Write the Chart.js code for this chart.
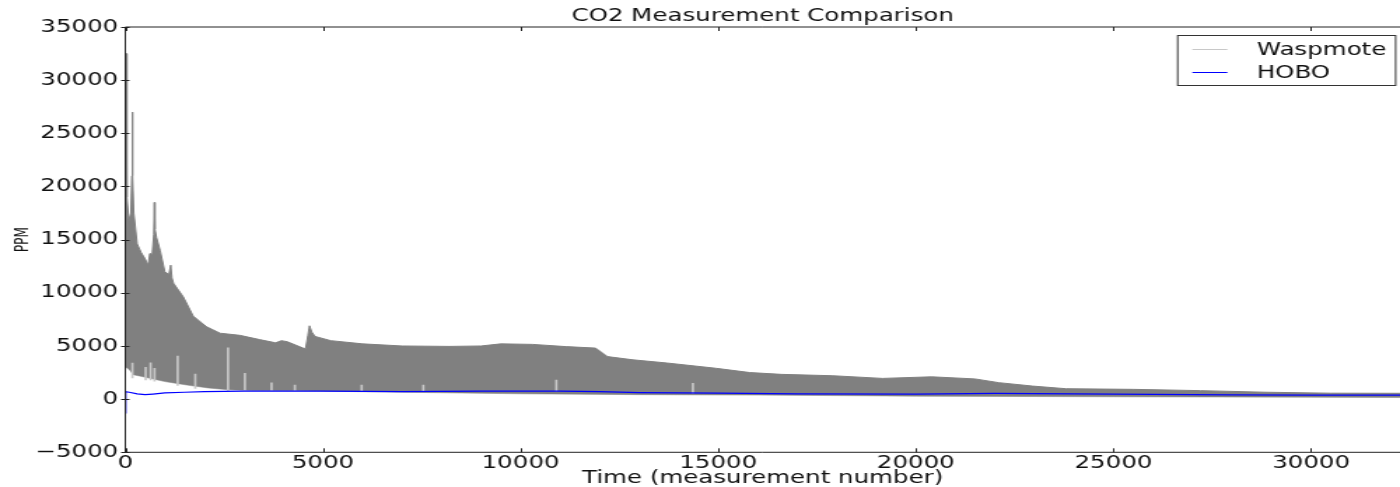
<!DOCTYPE html>
<html>
<head>
<meta charset="utf-8">
<title>CO2 Measurement Comparison</title>
<script src="https://cdn.jsdelivr.net/npm/chart.js@4/dist/chart.umd.min.js"></script>
<style>
body{margin:0;background:#fff;overflow:hidden}
#co2{display:block}
</style>
</head>
<body>
<!-- canvas is drawn 1000 wide and shown 1400 wide: the reference is a stretched figure -->
<canvas id="co2" width="1000" height="487" style="width:1400px;height:487px"></canvas>
<script>

/* DATA */

// Waspmote: upper edge of the dense band
const waspHighX = [0,25,40,90,140,165,177,190,215,260,300,400,500,580,620,680,720,735,750,790,880,1000,1100,1150,1180,1220,1470,1720,2060,2400,2900,3400,3800,3950,4100,4500,4560,4620,4660,4720,4800,5200,6000,7000,8200,9000,9500,10300,11150,11900,12200,12840,13700,14950,15800,16600,17900,19160,20400,21500,22100,22950,23800,25500,27200,28850,30500,32250]
const waspHigh  = [32500,32500,19000,16800,17500,21000,27000,21000,17500,16000,14600,13800,13200,12600,13700,13600,15500,18500,16000,15200,14000,12000,11700,12600,11400,10900,9600,7800,6800,6200,6000,5600,5300,5500,5400,4800,4750,6000,6900,6300,5900,5500,5200,5000,4960,5000,5200,5150,4940,4800,4000,3700,3400,2900,2500,2330,2200,1950,2100,1900,1550,1230,980,920,800,650,560,550]

// Waspmote: lower edge of the dense band
const waspLowX = [0,60,120,200,450,700,1000,1300,1600,2100,2600,3200,4400,7000,10000,13000,16000,20000,25000,30000,32250]
const waspLow  = [3000,2900,2700,2300,2100,1900,1650,1480,1300,1050,880,820,780,650,500,420,380,280,220,180,150]

// Waspmote: isolated light readings sticking out of the band
const spikeX    = [180,515,640,740,1325,1770,2600,3025,3700,4290,5980,7540,10905,14360]
const spikeLow  = [2000,1800,1800,1700,1300,1000,800,800,780,780,750,750,750,550]
const spikeHigh = [3400,3000,3420,2900,4050,2360,4830,2420,1540,1320,1320,1320,1800,1480]

// HOBO
const hoboX = [0,8,100,300,500,700,1000,1500,2000,3000,5000,7000,9000,11000,12000,13000,15000,17000,20000,22000,25000,28000,30000,32250]
const hobo  = [-1300,700,650,500,420,480,580,650,700,750,760,700,750,760,700,620,560,500,480,540,470,400,380,370]

const xTicks = [0,5000,10000,15000,20000,25000,30000]
const yTicks = [-5000,0,5000,10000,15000,20000,25000,30000,35000]
const xMax = 32250

const family = "'DejaVu Sans', sans-serif"
const waspColor = "#808080"
const waspLightColor = "#c8c8c8"
const hoboColor = "#0000ff"

function pts(xs, ys){
  return xs.map((x,i)=>({x:x, y:ys[i]}))
}

function fmt(v){
  return v < 0 ? "\u2212" + Math.abs(v) : String(v)
}

/* frame, inside ticks and the boxed legend, matplotlib style */
const axesFrame = {
  id:"axesFrame",
  afterDatasetsDraw(chart){
    const {ctx, chartArea:a, scales} = chart
    ctx.save()
    ctx.strokeStyle = "#222"
    ctx.lineWidth = 1
    ctx.beginPath()
    ctx.moveTo(a.left, a.bottom); ctx.lineTo(a.left, a.top); ctx.lineTo(a.right, a.top)
    ctx.moveTo(a.left, a.bottom); ctx.lineTo(a.right, a.bottom)
    scales.x.ticks.forEach(t=>{
      const px = Math.round(scales.x.getPixelForValue(t.value)) + 0.5
      ctx.moveTo(px, a.bottom); ctx.lineTo(px, a.bottom - 4)
      ctx.moveTo(px, a.top); ctx.lineTo(px, a.top + 4)
    })
    scales.y.ticks.forEach(t=>{
      const py = Math.round(scales.y.getPixelForValue(t.value)) + 0.5
      ctx.moveTo(a.left - 3, py); ctx.lineTo(a.left + 3, py)
    })
    ctx.stroke()

    // legend
    const w = 155.7, h = 50
    const left = a.right - 3.6 - w, top = a.top + 8
    ctx.fillStyle = "#fff"
    ctx.fillRect(left, top, w, h)
    ctx.strokeStyle = "#333"
    ctx.strokeRect(left + 0.5, top + 0.5, w, h)
    const items = [
      {label: chart.data.datasets[0].label, color: waspLightColor},
      {label: chart.data.datasets[2].label, color: hoboColor}
    ]
    ctx.font = "17.5px " + family
    ctx.textBaseline = "middle"
    ctx.textAlign = "left"
    items.forEach((it,i)=>{
      const y = top + 14 + i*23
      ctx.strokeStyle = it.color
      ctx.beginPath()
      ctx.moveTo(left + 11, y + 0.5); ctx.lineTo(left + 36, y + 0.5)
      ctx.stroke()
      ctx.fillStyle = "#111"
      ctx.fillText(it.label, left + 57, y + 1)
    })
    ctx.restore()
  }
}

new Chart(document.getElementById("co2"),{

type:"line",

data:{
datasets:[{
  label:"Waspmote",
  data:pts(waspHighX, waspHigh),
  borderColor:waspColor,
  backgroundColor:waspColor,
  borderWidth:1,
  pointRadius:0,
  fill:1,
  order:3
},{
  label:"Waspmote low",
  data:pts(waspLowX, waspLow),
  borderColor:waspColor,
  borderWidth:0.5,
  pointRadius:0,
  fill:false,
  order:4
},{
  label:"HOBO",
  data:pts(hoboX, hobo),
  borderColor:hoboColor,
  borderWidth:1.2,
  pointRadius:0,
  fill:false,
  order:1
},{
  type:"bar",
  label:"Waspmote spikes",
  data:spikeX.map((x,i)=>({x:x, y:[spikeLow[i], spikeHigh[i]]})),
  backgroundColor:waspLightColor,
  barThickness:1,
  grouped:false,
  order:2
}]
},

options:{
  responsive:false,
  devicePixelRatio:1,
  animation:false,
  layout:{padding:0},
  plugins:{
    legend:{display:false},
    tooltip:{enabled:false},
    title:{
      display:true,
      text:"CO2 Measurement Comparison",
      fullSize:false,
      color:"#111",
      font:{size:17.5, family:family, weight:"normal", lineHeight:1},
      padding:{top:8, bottom:1.5}
    }
  },
  scales:{
    x:{
      type:"linear",
      min:0,
      max:xMax,
      offset:false,
      afterBuildTicks:s=>{ s.ticks = xTicks.map(v=>({value:v})) },
      afterFit:s=>{ s.height = 34.7 },
      grid:{display:false, drawTicks:false, offset:false},
      border:{display:false},
      ticks:{padding:1, maxRotation:0, autoSkip:false, color:"#111", font:{size:17.5, family:family}, callback:fmt},
      title:{display:true, text:"Time (measurement number)", color:"#111", font:{size:17.5, family:family}, padding:{top:0, bottom:-1.5}}
    },
    y:{
      min:-5000,
      max:35000,
      afterBuildTicks:s=>{ s.ticks = yTicks.map(v=>({value:v})) },
      afterFit:s=>{ s.width = 89.5 },
      grid:{display:false, drawTicks:false},
      border:{display:false},
      ticks:{padding:5, autoSkip:false, color:"#111", font:{size:17.5, family:family}, callback:fmt},
      title:{display:true, text:"PPM", color:"#111", font:{size:13.5, family:"'DejaVu Sans Condensed', 'DejaVu Sans', sans-serif"}, padding:{top:8, bottom:0}}
    }
  }
},

plugins:[axesFrame]

})

</script>
</body>
</html>
